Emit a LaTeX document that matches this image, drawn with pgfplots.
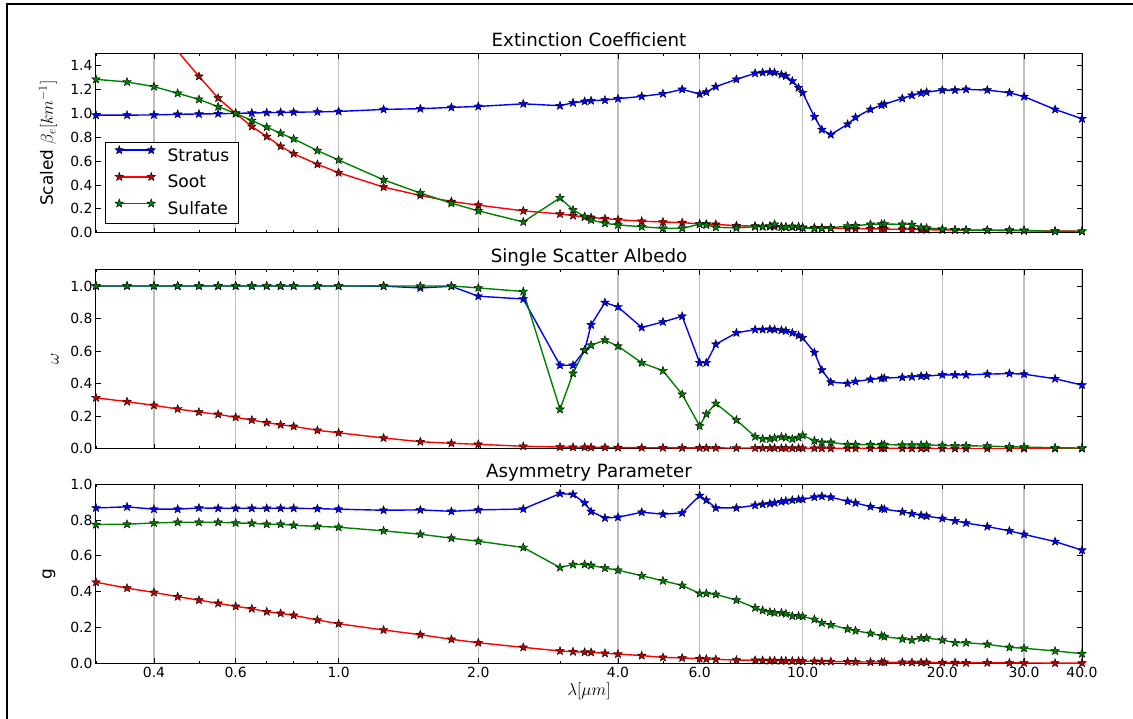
\documentclass[border=0pt]{standalone}
\usepackage{pgfplots}
\pgfplotsset{compat=1.18}
\usepackage{pgfplotstable}
\usepackage{fontspec}
\setmainfont{DejaVu Sans}

\pgfdeclareplotmark{fstar}{%
  \pgfpathmoveto{\pgfpointpolar{90}{\pgfplotmarksize}}%
  \pgfpathlineto{\pgfpointpolar{126}{0.42\pgfplotmarksize}}%
  \pgfpathlineto{\pgfpointpolar{162}{\pgfplotmarksize}}%
  \pgfpathlineto{\pgfpointpolar{198}{0.42\pgfplotmarksize}}%
  \pgfpathlineto{\pgfpointpolar{234}{\pgfplotmarksize}}%
  \pgfpathlineto{\pgfpointpolar{270}{0.42\pgfplotmarksize}}%
  \pgfpathlineto{\pgfpointpolar{306}{\pgfplotmarksize}}%
  \pgfpathlineto{\pgfpointpolar{342}{0.42\pgfplotmarksize}}%
  \pgfpathlineto{\pgfpointpolar{18}{\pgfplotmarksize}}%
  \pgfpathlineto{\pgfpointpolar{54}{0.42\pgfplotmarksize}}%
  \pgfpathclose
  \pgfusepathqfillstroke}

% extinction coefficient
\pgfplotstableread{
lam  str    soot   sulf
0.30 0.985  2.70   1.285
0.35 0.985  2.20   1.263
0.40 0.987  1.81   1.224
0.45 0.992  1.52   1.168
0.50 0.995  1.31   1.117
0.55 0.997  1.128  1.056
0.60 1.000  1.000  1.000
0.65 1.003  0.890  0.940
0.70 1.006  0.806  0.884
0.75 1.008  0.724  0.833
0.80 1.010  0.662  0.786
0.90 1.012  0.573  0.688
1.00 1.016  0.503  0.609
1.25 1.033  0.382  0.443
1.50 1.039  0.312  0.332
1.75 1.050  0.261  0.247
2.00 1.058  0.231  0.183
2.50 1.080  0.183  0.090
3.00 1.064  0.157  0.292
3.20 1.089  0.143  0.191
3.39 1.100  0.132  0.135
3.50 1.106  0.128  0.107
3.75 1.111  0.118  0.079
4.00 1.123  0.109  0.065
4.50 1.142  0.096  0.050
5.00 1.165  0.090  0.037
5.50 1.201  0.085  0.037
6.00 1.162  0.073  0.071
6.20 1.178  0.072  0.065
6.50 1.224  0.070  0.045
7.20 1.285  0.059  0.040
7.90 1.336  0.055  0.050
8.20 1.342  0.052  0.050
8.50 1.347  0.051  0.056
8.70 1.342  0.050  0.070
9.00 1.325  0.049  0.050
9.20 1.313  0.048  0.046
9.50 1.271  0.047  0.053
9.80 1.215  0.046  0.050
10.0 1.173  0.045  0.040
10.6 0.971  0.042  0.034
11.0 0.864  0.040  0.036
11.5 0.822  0.038  0.040
12.5 0.909  0.035  0.056
13.0 0.966  0.034  0.059
14.0 1.033  0.032  0.070
14.8 1.069  0.031  0.073
15.0 1.077  0.030  0.073
16.4 1.125  0.028  0.070
17.2 1.151  0.027  0.068
18.0 1.170  0.026  0.045
18.5 1.178  0.025  0.040
20.0 1.195  0.023  0.031
21.3 1.195  0.022  0.025
22.5 1.201  0.021  0.022
25.0 1.195  0.019  0.022
27.9 1.173  0.017  0.022
30.0 1.140  0.016  0.020
35.0 1.033  0.014  0.011
40.0 0.955  0.012  0.011
}\ext

% single scatter albedo
\pgfplotstableread{
lam  str    soot   sulf
0.30 1.000  0.313  1.000
0.35 1.000  0.289  1.000
0.40 1.000  0.266  1.000
0.45 1.000  0.244  1.000
0.50 1.000  0.225  1.000
0.55 1.000  0.211  1.000
0.60 1.000  0.193  1.000
0.65 1.000  0.176  1.000
0.70 1.000  0.160  1.000
0.75 1.000  0.147  1.000
0.80 1.000  0.137  1.000
0.90 1.000  0.113  1.000
1.00 1.000  0.098  1.000
1.25 0.999  0.066  1.000
1.50 0.988  0.043  1.000
1.75 0.998  0.033  1.000
2.00 0.937  0.027  0.988
2.50 0.920  0.015  0.966
3.00 0.513  0.010  0.242
3.20 0.513  0.009  0.463
3.39 0.604  0.009  0.606
3.50 0.761  0.008  0.636
3.75 0.898  0.008  0.667
4.00 0.871  0.007  0.630
4.50 0.745  0.006  0.528
5.00 0.779  0.006  0.479
5.50 0.814  0.005  0.334
6.00 0.528  0.005  0.139
6.20 0.528  0.005  0.213
6.50 0.642  0.005  0.278
7.20 0.712  0.004  0.176
7.90 0.732  0.004  0.074
8.20 0.732  0.004  0.060
8.50 0.734  0.004  0.060
8.70 0.732  0.004  0.066
9.00 0.728  0.003  0.072
9.20 0.724  0.003  0.068
9.50 0.712  0.003  0.060
9.80 0.696  0.003  0.068
10.0 0.681  0.003  0.082
10.6 0.591  0.003  0.049
11.0 0.483  0.003  0.039
11.5 0.409  0.002  0.039
12.5 0.401  0.002  0.025
13.0 0.413  0.002  0.025
14.0 0.426  0.002  0.025
14.8 0.432  0.002  0.025
15.0 0.434  0.002  0.025
16.4 0.438  0.002  0.023
17.2 0.442  0.002  0.023
18.0 0.446  0.002  0.023
18.5 0.446  0.002  0.023
20.0 0.454  0.001  0.020
21.3 0.454  0.001  0.018
22.5 0.454  0.001  0.018
25.0 0.458  0.001  0.016
27.9 0.462  0.001  0.012
30.0 0.458  0.001  0.010
35.0 0.430  0.001  0.006
40.0 0.391  0.001  0.004
}\ssa

% asymmetry parameter
\pgfplotstableread{
lam  str    soot   sulf
0.30 0.868  0.453  0.775
0.35 0.874  0.420  0.777
0.40 0.861  0.396  0.784
0.45 0.861  0.372  0.788
0.50 0.868  0.353  0.788
0.55 0.866  0.335  0.788
0.60 0.866  0.318  0.784
0.65 0.866  0.305  0.782
0.70 0.866  0.288  0.777
0.75 0.866  0.279  0.777
0.80 0.866  0.268  0.771
0.90 0.864  0.242  0.765
1.00 0.861  0.221  0.760
1.25 0.855  0.186  0.740
1.50 0.857  0.160  0.721
1.75 0.849  0.134  0.699
2.00 0.857  0.115  0.682
2.50 0.862  0.089  0.647
3.00 0.948  0.069  0.535
3.20 0.944  0.065  0.552
3.39 0.896  0.062  0.552
3.50 0.848  0.061  0.547
3.75 0.812  0.056  0.532
4.00 0.816  0.052  0.520
4.50 0.844  0.043  0.489
5.00 0.833  0.033  0.461
5.50 0.840  0.030  0.435
6.00 0.937  0.026  0.390
6.20 0.911  0.024  0.390
6.50 0.868  0.022  0.385
7.20 0.868  0.018  0.353
7.90 0.883  0.017  0.310
8.20 0.888  0.016  0.295
8.50 0.892  0.015  0.286
8.70 0.896  0.015  0.282
9.00 0.903  0.014  0.282
9.20 0.907  0.014  0.277
9.50 0.911  0.013  0.264
9.80 0.915  0.013  0.264
10.0 0.916  0.012  0.262
10.6 0.928  0.011  0.245
11.0 0.933  0.010  0.226
11.5 0.928  0.010  0.215
12.5 0.905  0.009  0.191
13.0 0.896  0.008  0.182
14.0 0.875  0.007  0.167
14.8 0.864  0.007  0.154
15.0 0.861  0.006  0.149
16.4 0.846  0.006  0.136
17.2 0.836  0.005  0.130
18.0 0.827  0.005  0.141
18.5 0.822  0.005  0.141
20.0 0.809  0.004  0.130
21.3 0.796  0.004  0.115
22.5 0.784  0.003  0.115
25.0 0.764  0.003  0.106
27.9 0.740  0.002  0.089
30.0 0.720  0.002  0.084
35.0 0.680  0.001  0.069
40.0 0.632  0.001  0.054
}\asym

\pgfplotsset{
  width=986bp, height=179bp, scale only axis,
  xmin=0.3, xmax=40,
  xmajorgrids,
  major grid style={draw=black!25, line width=1.2bp},
  tick align=inside,
  major tick length=5bp, minor tick length=2.5bp,
  every tick/.style={black, line width=0.8bp},
  axis line style={black, line width=1bp},
  tick label style={font=\fontsize{14}{16}\selectfont},
  /pgf/number format/assume math mode=true,
  yticklabel style={/pgf/number format/.cd, fixed, fixed zerofill, precision=1},
  every axis title shift=0pt,
  title style={at={(axis description cs:0.5,1)}, anchor=base, yshift=7bp,
    font=\fontsize{18.3}{21}\selectfont},
  every axis y label/.style={rotate=90, anchor=center,
    font=\fontsize{17}{20}\selectfont},
}
\tikzset{
  sstr/.style={blue, line width=1.4bp, mark=fstar, mark size=4.5bp,
    mark options={fill=blue, draw=black, line width=0.4bp}},
  ssoot/.style={red, line width=1.4bp, mark=fstar, mark size=4.5bp,
    mark options={fill=red!75!black, draw=black, line width=0.4bp}},
  ssulf/.style={green!50!black, line width=1.4bp, mark=fstar, mark size=4.5bp,
    mark options={fill=green!50!black, draw=black, line width=0.4bp}},
}

\begin{document}
\begin{tikzpicture}
\useasboundingbox (0bp,0bp) rectangle (1133bp,719bp);
\draw[line width=2bp] (7bp,-2bp) -- (7bp,715bp) -- (1135bp,715bp);

% panel 1
\begin{axis}[xmode=log, at={(96bp,486.3bp)}, anchor=south west,
  xtick={0.4,0.6,1,2,4,6,10,20,30,40},
  minor xtick={0.3,0.5,0.7,0.8,0.9,3,5,7,8,9},
  ymin=0, ymax=1.5, ytick={0,0.2,0.4,0.6,0.8,1.0,1.2,1.4},
  xticklabels={},
  title={Extinction Coefficient},
  ylabel={Scaled $\beta_e [km^{-1}]$},
  ylabel style={at={([xshift=-48bp]axis description cs:0,0.5)}},
  legend style={at={(0.0091,0.0486)}, anchor=south west, draw=black, line width=1bp,
    font=\fontsize{17.2}{20}\selectfont, cells={anchor=west},
    column sep=12bp, row sep=0bp, inner xsep=9.5bp, inner ysep=0.6bp,
    nodes={text height=13bp, text depth=3bp, inner ysep=5.35bp, inner xsep=0bp}},
  legend image code/.code={\draw[#1] plot coordinates {(0bp,6bp) (32bp,6bp)};},
]
\addplot[sstr] table[x=lam, y=str] {\ext};
\addplot[ssoot] table[x=lam, y=soot] {\ext};
\addplot[ssulf] table[x=lam, y=sulf] {\ext};
\legend{Stratus, Soot, Sulfate}
\end{axis}

% panel 2
\begin{axis}[xmode=log, at={(96bp,270.3bp)}, anchor=south west,
  xtick={0.4,0.6,1,2,4,6,10,20,30,40},
  minor xtick={0.3,0.5,0.7,0.8,0.9,3,5,7,8,9},
  ymin=0, ymax=1.1, ytick={0,0.2,0.4,0.6,0.8,1.0},
  xticklabels={},
  title={Single Scatter Albedo},
  ylabel={$\omega$},
  ylabel style={at={([xshift=-41bp]axis description cs:0,0.5)}},
]
\addplot[sstr] table[x=lam, y=str] {\ssa};
\addplot[ssoot] table[x=lam, y=soot] {\ssa};
\addplot[ssulf] table[x=lam, y=sulf] {\ssa};
\end{axis}

% panel 3
\begin{axis}[xmode=log, at={(96bp,55.7bp)}, anchor=south west,
  xtick={0.4,0.6,1,2,4,6,10,20,30,40},
  minor xtick={0.3,0.5,0.7,0.8,0.9,3,5,7,8,9},
  ymin=0, ymax=1.0, ytick={0,0.2,0.4,0.6,0.8,1.0},
  xticklabels={0.4,0.6,1.0,2.0,4.0,6.0,10.0,20.0,30.0,40.0},
  title={Asymmetry Parameter},
  ylabel={g},
  ylabel style={at={([xshift=-47bp]axis description cs:0,0.5)}},
  xlabel={$\lambda[\mu m]$},
  xlabel style={at={(axis description cs:0.5,0)}, anchor=center, yshift=-28bp,
    font=\fontsize{18}{21}\selectfont},
]
\addplot[sstr] table[x=lam, y=str] {\asym};
\addplot[ssoot] table[x=lam, y=soot] {\asym};
\addplot[ssulf] table[x=lam, y=sulf] {\asym};
\end{axis}
\end{tikzpicture}
\end{document}
